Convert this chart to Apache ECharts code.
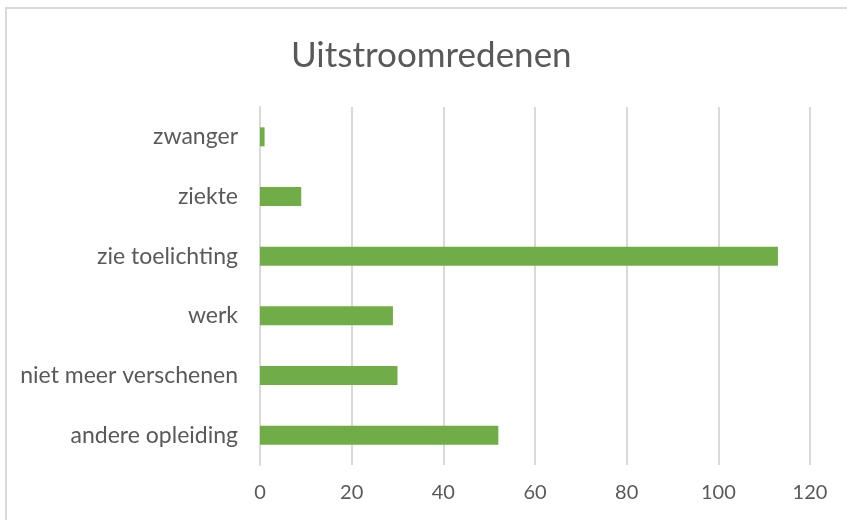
<!DOCTYPE html>
<html>
<head>
    <meta charset="utf-8">
    <title>Uitstroomredenen</title>
    <script src="https://cdn.jsdelivr.net/npm/echarts@6/dist/echarts.min.js"></script>
    <style>
        html, body { margin: 0; padding: 0; background: #fff; overflow: hidden; }
        #frame { position: absolute; left: 5px; top: 7px; width: 900px; height: 600px; border: 2px solid #d9d9d9; box-sizing: border-box; }
        #chart { position: absolute; left: 0; top: 0; width: 847px; height: 520px; }
    </style>
</head>
<body>
    <div id="frame"></div>
    <div id="chart"></div>
    <script type="text/javascript">
        // categories from bottom to top
        var categories = ['andere opleiding', 'niet meer verschenen', 'werk', 'zie toelichting', 'ziekte', 'zwanger'];
        var aantallen = [52, 30, 29, 113, 9, 1];
        var xTicks = [0, 20, 40, 60, 80, 100, 120];

        var myChart = echarts.init(document.getElementById('chart'), null, { renderer: 'canvas' });

        myChart.setOption({
            backgroundColor: 'transparent',
            textStyle: { fontFamily: 'Lato' },
            title: {
                text: 'Uitstroomredenen',
                left: 286,
                top: 33,
                textStyle: {
                    fontFamily: 'Lato',
                    fontSize: 35,
                    fontWeight: 'normal',
                    color: '#595959'
                }
            },
            grid: {
                left: 260,
                right: 37,
                top: 107,
                bottom: 55,
                containLabel: false
            },
            xAxis: {
                type: 'value',
                min: xTicks[0],
                max: xTicks[xTicks.length - 1],
                interval: 20,
                axisLine: { show: false },
                axisTick: { show: false },
                splitLine: { lineStyle: { color: '#d9d9d9', width: 2 } },
                axisLabel: {
                    color: '#595959',
                    fontFamily: 'Lato',
                    fontSize: 20,
                    margin: 18
                }
            },
            yAxis: {
                type: 'category',
                data: categories,
                axisLine: { show: true, lineStyle: { color: '#d9d9d9', width: 2 } },
                axisTick: { show: false },
                axisLabel: {
                    color: '#595959',
                    fontFamily: 'Lato',
                    fontSize: 23,
                    margin: 22
                }
            },
            series: [{
                name: 'Uitstroomredenen',
                type: 'bar',
                data: aantallen,
                barWidth: 19,
                itemStyle: { color: '#70ad47' },
                silent: true
            }]
        });
    </script>
</body>
</html>
